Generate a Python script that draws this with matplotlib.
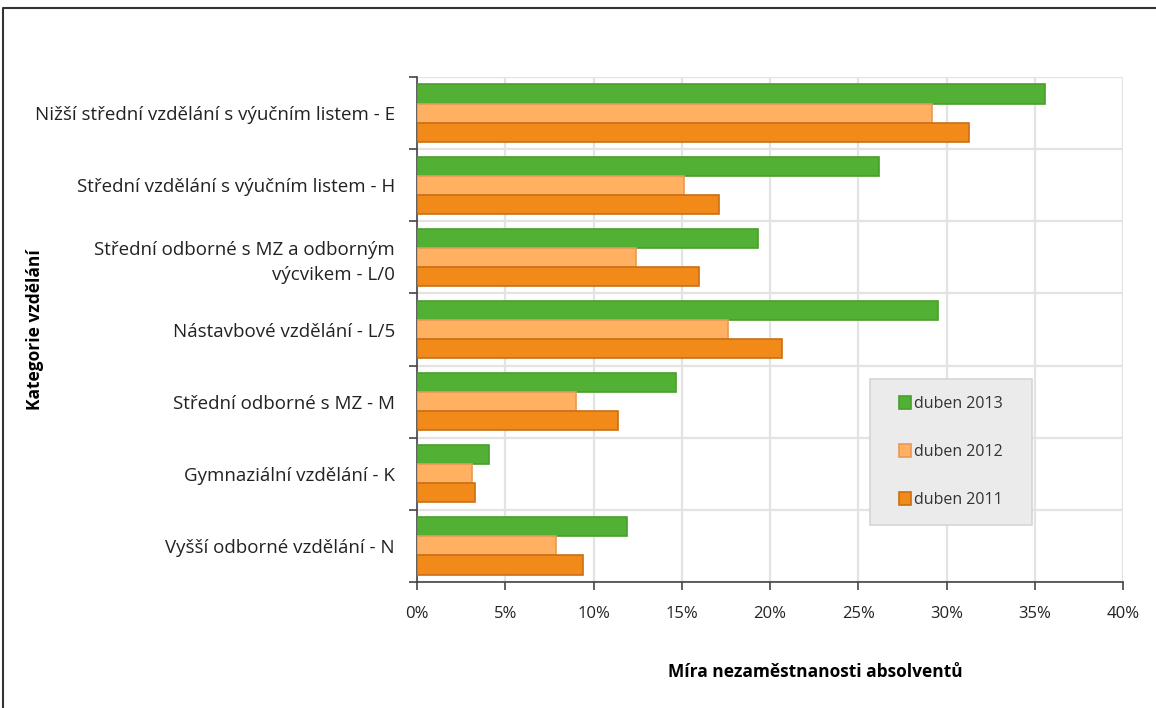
import matplotlib.pyplot as plt
import numpy as np
from matplotlib.lines import Line2D
from matplotlib.patches import Rectangle
from matplotlib.ticker import FuncFormatter

categories = [
    "Nižší střední vzdělání s výučním listem - E",
    "Střední vzdělání s výučním listem - H",
    "Střední odborné s MZ a odborným\nvýcvikem - L/0",
    "Nástavbové vzdělání - L/5",
    "Střední odborné s MZ - M",
    "Gymnaziální vzdělání - K",
    "Vyšší odborné vzdělání - N",
]
series_names = ["duben 2013", "duben 2012", "duben 2011"]
apr_2013 = [35.6, 26.2, 19.3, 29.5, 14.7, 4.1, 11.9]
apr_2012 = [29.2, 15.1, 12.4, 17.6, 9.0, 3.1, 7.9]
apr_2011 = [31.3, 17.1, 16.0, 20.7, 11.4, 3.3, 9.4]

FACE = ["#52b035", "#ffb061", "#f28a1a"]
EDGE = ["#47a02c", "#e89a55", "#c96f16"]

plt.rcParams["font.family"] = ["Open Sans", "DejaVu Sans"]

W, H = 1156, 708
fig = plt.figure(figsize=(W / 100, H / 100), dpi=100)
ax = fig.add_axes([417 / W, 1 - 582 / H, 706 / W, 505 / H])

n = len(categories)
pos = np.arange(n)
bar_h = 0.265
for i, (vals, name) in enumerate(zip((apr_2013, apr_2012, apr_2011), series_names)):
    ax.barh(pos + (i - 1) * bar_h, vals, height=bar_h, color=FACE[i],
            edgecolor=EDGE[i], linewidth=1.2, label=name, zorder=3)

ax.set_ylim(n - 0.5, -0.5)
ax.set_xlim(0, 40)
ax.set_xticks(np.arange(0, 41, 5))
ax.xaxis.set_major_formatter(FuncFormatter(lambda v, _: f"{v:.0f}%"))
ax.set_yticks(pos)
ax.set_yticklabels(categories, fontsize=13.5, color="#222222", linespacing=1.45)
ax.set_yticks(np.arange(-0.5, n, 1), minor=True)
ax.tick_params(axis="y", which="major", length=0, pad=16)
ax.tick_params(axis="y", which="minor", length=6, width=1.2, color="#444444")
ax.tick_params(axis="x", length=6, width=1.2, color="#444444",
               labelsize=12, labelcolor="#222222", pad=11)
ax.grid(axis="x", color="#e3e3e3", linewidth=1.6, zorder=0)
ax.grid(axis="y", which="minor", color="#e3e3e3", linewidth=1.6, zorder=0)
for side in ("top", "right"):
    ax.spines[side].set_visible(False)
for side in ("left", "bottom"):
    ax.spines[side].set_color("#444444")
    ax.spines[side].set_linewidth(1.2)

# legend box drawn separately so the padding matches the original
lx0, lx1, ly0, ly1 = 870, 1032, 379, 525
fig.add_artist(Rectangle((lx0 / W, 1 - ly1 / H), (lx1 - lx0) / W, (ly1 - ly0) / H,
                         transform=fig.transFigure, facecolor="#ebebeb",
                         edgecolor="#d5d5d5", linewidth=1.2, zorder=4))
leg = fig.legend(loc="center", bbox_to_anchor=((lx0 + lx1) / 2 / W, 1 - (ly0 + ly1) / 2 / H),
                 fontsize=11.5, frameon=False, handlelength=0.7, handleheight=0.9,
                 handletextpad=0.2, labelspacing=2.0, borderpad=0)
leg.set_zorder(5)
for t in leg.get_texts():
    t.set_color("#333333")

fig.text(815 / W, 1 - 672 / H, "Míra nezaměstnanosti absolventů",
         ha="center", va="center", fontsize=12.5, fontweight="bold")
fig.text(35 / W, 1 - 330 / H, "Kategorie vzdělání", rotation=90,
         ha="center", va="center", fontsize=12.5, fontweight="bold")

# outer frame (top and left edges visible)
fig.add_artist(Line2D([3 / W, 3 / W, 1], [0, 1 - 8 / H, 1 - 8 / H],
                      transform=fig.transFigure, color="#333333", linewidth=1.5))

fig.savefig("out.png", dpi=100)
